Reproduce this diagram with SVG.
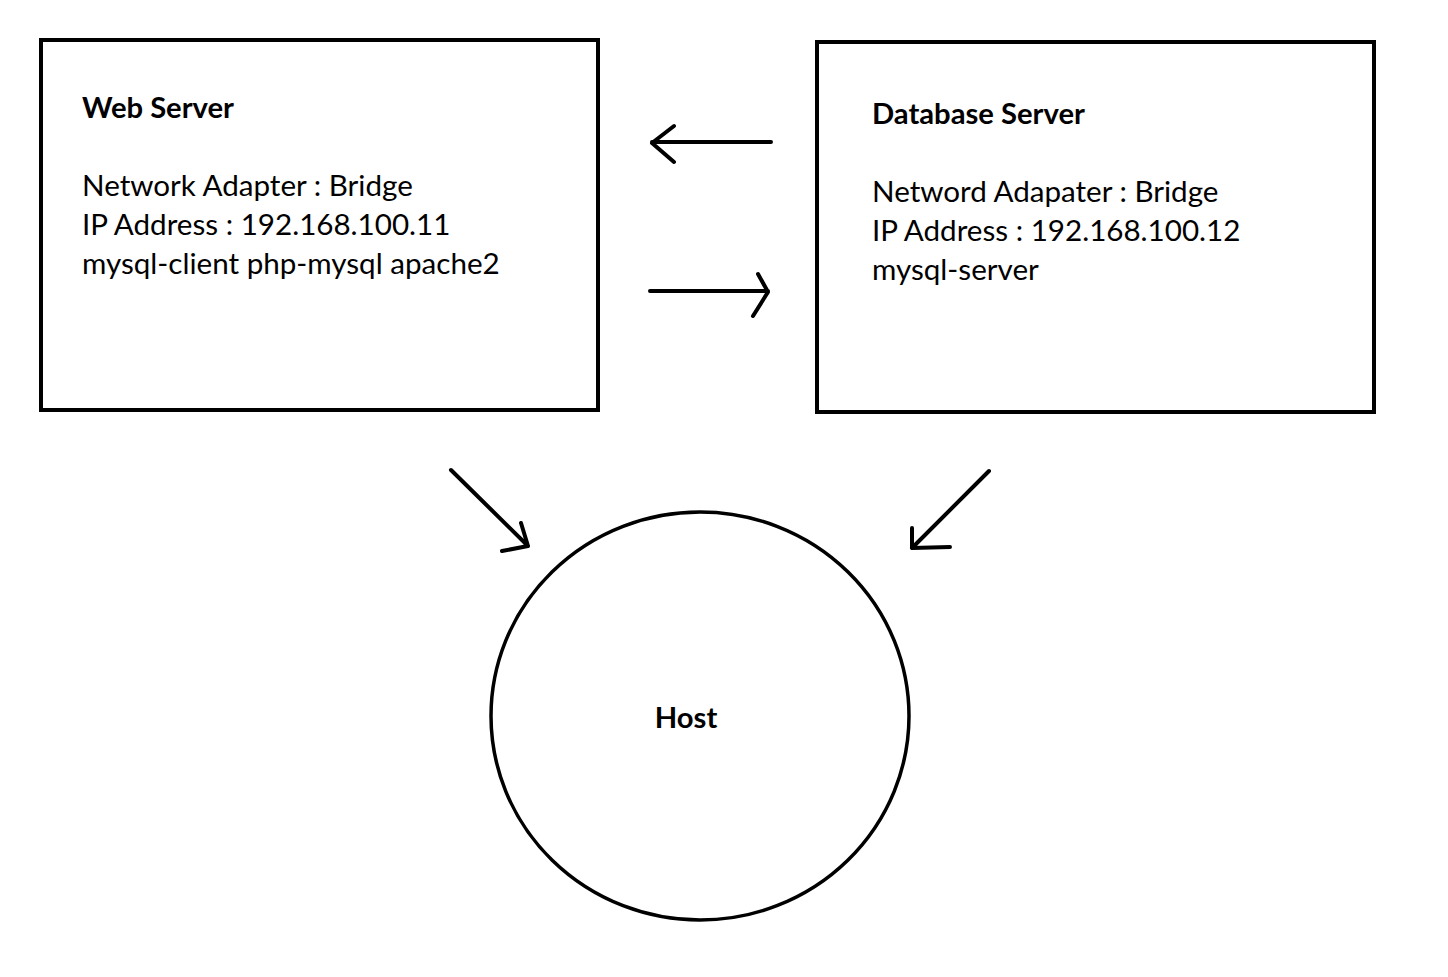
<svg xmlns="http://www.w3.org/2000/svg" width="1448" height="977" viewBox="0 0 1448 977">
<style>
text{font-family:Lato,"Open Sans",sans-serif;font-size:29.6px;fill:#000}
.b{font-weight:bold;font-size:29.2px}
.box{fill:none;stroke:#000;stroke-width:4}
.c{fill:none;stroke:#000;stroke-width:4;stroke-linecap:round;stroke-linejoin:round}
</style>
<rect width="1448" height="977" fill="#fff"/>
<g id="web-server">
<rect class="box" x="41" y="40" width="557" height="370"/>
<text class="b" x="82" y="118">Web Server</text>
<text x="82" y="196">Network Adapter : Bridge</text>
<text x="82" y="235">IP Address : 192.168.100.11</text>
<text x="82" y="274">mysql-client php-mysql apache2</text>
</g>
<g id="database-server">
<rect class="box" x="817" y="42" width="557" height="370"/>
<text class="b" x="872" y="124">Database Server</text>
<text x="872" y="202">Netword Adapater : Bridge</text>
<text x="872" y="241">IP Address : 192.168.100.12</text>
<text x="872" y="280">mysql-server</text>
</g>
<g id="host">
<ellipse cx="700" cy="716" rx="209" ry="204" fill="none" stroke="#000" stroke-width="3.5"/>
<text class="b" x="686" y="728" text-anchor="middle">Host</text>
</g>
<g id="connectors">
<path class="c" d="M771 142 L652 142 M674 126 L652 143 L674 162"/>
<path class="c" d="M650 291 L768 291 M758 274 L768 292 L753 316"/>
<path class="c" d="M451 470 L528 546 M521 523 L528 546 L502 551"/>
<path class="c" d="M989 471 L912 548 M912 528 L912 548 L950 547"/>
</g>
</svg>
